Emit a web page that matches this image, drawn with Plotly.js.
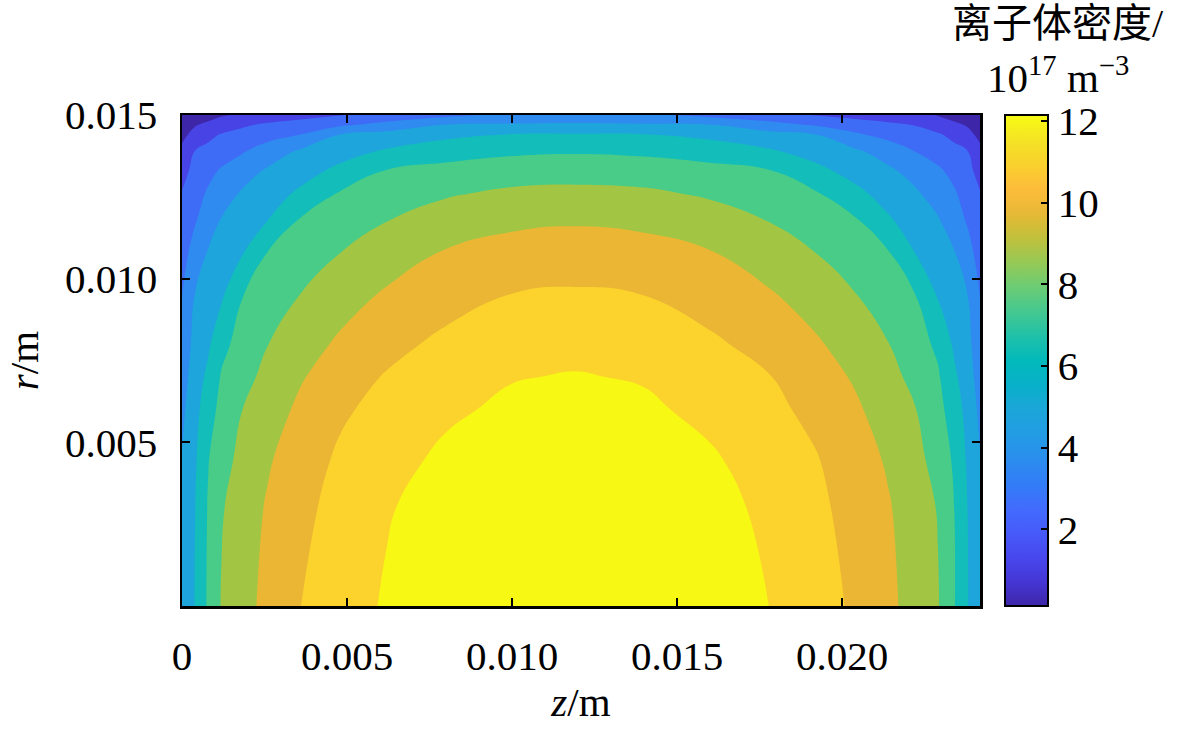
<!DOCTYPE html>
<html>
<head>
<meta charset="utf-8">
<script src="https://cdn.plot.ly/plotly-3.0.1.min.js"></script>
<style>html,body{margin:0;padding:0;background:#fff;}#chart{width:1181px;height:730px;}</style>
</head>
<body>
<div id="chart"></div>
<script>
// axial positions z (m) of the grid columns
const zPos = [0, 0.0004, 0.0008, 0.0012, 0.0018, 0.0026, 0.0036, 0.0048, 0.0062, 0.0080, 0.0100, 0.0119,
              0.0140, 0.0160, 0.0178, 0.0192, 0.0204, 0.0214, 0.0222, 0.0229, 0.0234, 0.0238, 0.02418];
// radial positions r (m) of the grid rows
const rPos = [0, 0.003, 0.0045, 0.006, 0.007, 0.008, 0.0095, 0.0108, 0.0118, 0.0126, 0.0133, 0.0139, 0.0144, 0.0147, 0.015];

// ion density (1e17 m^-3), one array per radial row
const n_r0000 = [4.70, 5.64, 6.88, 7.86, 8.46, 9.18, 9.96, 10.55, 11.18, 11.70, 12.04, 12.15, 12.01, 11.62, 11.05, 10.41, 9.80, 9.11, 8.48, 7.87, 6.74, 5.64, 4.70];
const n_r0030 = [4.60, 5.58, 6.79, 7.68, 8.30, 8.98, 9.69, 10.33, 10.97, 11.51, 11.85, 11.96, 11.82, 11.43, 10.82, 10.21, 9.57, 8.96, 8.33, 7.72, 6.68, 5.59, 4.60];
const n_r0045 = [4.53, 5.45, 6.64, 7.34, 8.07, 8.75, 9.45, 10.13, 10.67, 11.27, 11.61, 11.72, 11.58, 11.19, 10.56, 10.03, 9.36, 8.74, 8.12, 7.38, 6.51, 5.44, 4.53];
const n_r0060 = [4.25, 5.24, 6.25, 7.00, 7.75, 8.38, 9.08, 9.80, 10.31, 10.87, 11.27, 11.38, 11.24, 10.78, 10.23, 9.68, 9.03, 8.38, 7.83, 7.03, 6.15, 5.22, 4.25];
const n_r0070 = [4.00, 5.06, 5.84, 6.79, 7.40, 8.08, 8.78, 9.44, 10.05, 10.55, 11.00, 11.12, 10.97, 10.50, 10.00, 9.36, 8.75, 8.11, 7.50, 6.82, 5.78, 5.03, 4.00];
const n_r0080 = [3.76, 4.86, 5.44, 6.37, 7.09, 7.76, 8.40, 9.05, 9.61, 10.24, 10.63, 10.75, 10.60, 10.17, 9.54, 9.01, 8.39, 7.80, 7.17, 6.48, 5.41, 4.83, 3.76];
const n_r0095 = [3.39, 4.54, 4.98, 5.43, 6.63, 7.17, 7.80, 8.41, 9.01, 9.49, 9.99, 10.10, 9.96, 9.44, 8.98, 8.39, 7.81, 7.22, 6.73, 5.50, 4.95, 4.50, 3.39];
const n_r0108 = [2.96, 3.86, 4.58, 4.93, 5.46, 6.71, 7.20, 7.77, 8.31, 8.95, 9.28, 9.38, 9.26, 8.92, 8.29, 7.77, 7.22, 6.75, 5.59, 4.98, 4.54, 3.80, 2.96];
const n_r0118 = [2.63, 3.31, 3.96, 4.55, 4.99, 5.57, 6.77, 7.22, 7.74, 8.28, 8.63, 8.74, 8.61, 8.25, 7.73, 7.22, 6.78, 5.71, 5.08, 4.58, 3.90, 3.28, 2.63];
const n_r0126 = [2.37, 2.99, 3.55, 4.00, 4.59, 5.09, 5.79, 6.79, 7.17, 7.66, 7.98, 8.06, 7.96, 7.63, 7.16, 6.79, 5.87, 5.15, 4.66, 4.05, 3.52, 2.96, 2.37];
const n_r0133 = [1.92, 2.66, 3.11, 3.52, 4.03, 4.63, 5.16, 5.86, 6.73, 7.05, 7.26, 7.33, 7.25, 7.04, 6.72, 5.88, 5.19, 4.68, 4.14, 3.58, 3.09, 2.64, 1.92];
const n_r0139 = [1.45, 2.33, 2.60, 2.87, 3.27, 3.91, 4.63, 5.15, 5.71, 6.17, 6.48, 6.57, 6.46, 6.15, 5.70, 5.16, 4.65, 4.01, 3.39, 2.92, 2.59, 2.32, 1.45];
const n_r0144 = [0.95, 1.56, 2.06, 2.39, 2.65, 2.99, 3.41, 4.50, 4.87, 5.35, 5.64, 5.68, 5.64, 5.33, 4.86, 4.50, 3.56, 3.06, 2.73, 2.43, 2.04, 1.54, 0.95];
const n_r0147 = [0.60, 1.14, 1.45, 1.72, 2.13, 2.49, 2.81, 3.21, 3.76, 4.51, 4.59, 4.62, 4.59, 4.50, 3.80, 3.27, 2.87, 2.55, 2.26, 1.78, 1.43, 1.11, 0.60];
const n_r0150 = [0.12, 0.45, 0.79, 1.12, 1.36, 1.60, 1.90, 2.27, 2.65, 3.13, 3.68, 3.90, 3.63, 3.09, 2.63, 2.26, 1.92, 1.63, 1.40, 1.19, 0.77, 0.44, 0.12];

// colour range and contour levels (11 filled bands)
const densMin = 0.12, densMax = 12.15;
const levelStart = 1.2136, levelStep = 1.09364, levelEnd = 11.06;

// tick labels
const xTickVals = [0, 0.005, 0.010, 0.015, 0.020];
const xTickText = ['0', '0.005', '0.010', '0.015', '0.020'];
const yTickVals = [0.005, 0.010, 0.015];
const yTickText = ['0.005', '0.010', '0.015'];
const cbTickVals = [2, 4, 6, 8, 10, 12];

// band colours (lowest band to highest) and continuous colorbar palette
const bandColors = ['#3e26a8', '#4743e4', '#3f6cf6', '#2f8bef', '#1ea6dc', '#13bdb9',
                    '#49cc87', '#a2c643', '#ebb634', '#fbd32c', '#f7f915'];
const parula = [
  [0.00, '#3e26a8'], [0.05, '#4536d5'], [0.10, '#4748ee'], [0.15, '#475bf9'],
  [0.20, '#416cfd'], [0.25, '#327df7'], [0.30, '#2b8eee'], [0.35, '#229ce4'],
  [0.40, '#1ca6d9'], [0.45, '#08b0c9'], [0.50, '#02b9bb'], [0.55, '#20c1a8'],
  [0.60, '#45c890'], [0.65, '#6bcc74'], [0.70, '#96c955'], [0.75, '#c1c03b'],
  [0.80, '#e7b935'], [0.85, '#fdbc3b'], [0.90, '#f9d12d'], [0.95, '#f4e424'],
  [1.00, '#f9fb14']
];

const density = [n_r0000, n_r0030, n_r0045, n_r0060, n_r0070, n_r0080, n_r0095, n_r0108, n_r0118,
                 n_r0126, n_r0133, n_r0139, n_r0144, n_r0147, n_r0150];
const bandScale = bandColors.map((c, i) => [i / (bandColors.length - 1), c]);

const FONT = 'Liberation Serif, Times New Roman, Noto Sans CJK SC, serif';

const traces = [
  {
    type: 'contour',
    x: zPos, y: rPos, z: density,
    autocontour: false,
    contours: {start: levelStart, end: levelEnd, size: levelStep, coloring: 'fill', showlines: false},
    colorscale: bandScale,
    showscale: false,
    line: {width: 0, smoothing: 1.3},
    hoverinfo: 'skip'
  },
  {
    type: 'scatter', mode: 'markers',
    x: [0.012, 0.012], y: [0.007, 0.007],
    hoverinfo: 'skip', showlegend: false,
    marker: {
      size: 1, opacity: 0,
      color: [densMin, densMax], cmin: densMin, cmax: densMax,
      colorscale: parula, showscale: true,
      colorbar: {
        x: 1.0313, xanchor: 'left', xref: 'paper', xpad: 0,
        y: 0.5, yanchor: 'middle', len: 1, lenmode: 'fraction', ypad: 0,
        thickness: 43, thicknessmode: 'pixels',
        outlinewidth: 2, outlinecolor: 'black',
        ticks: 'inside', ticklen: 8, tickwidth: 2, tickcolor: 'black',
        tickvals: cbTickVals, tickfont: {family: FONT, size: 41, color: 'black'},
        ticklabelstandoff: 6
      }
    }
  }
];

const layout = {
  width: 1181, height: 730,
  margin: {l: 182, r: 201, t: 115, b: 124, pad: 0},
  paper_bgcolor: 'white', plot_bgcolor: 'white',
  font: {family: FONT, size: 41, color: 'black'},
  showlegend: false,
  xaxis: {
    range: [0, 0.02418], tickmode: 'array', tickvals: xTickVals, ticktext: xTickText,
    ticks: 'inside', ticklen: 8, tickwidth: 2, tickcolor: 'black',
    showline: true, linewidth: 2.5, linecolor: 'black', mirror: 'ticks',
    showgrid: false, zeroline: false, ticklabelstandoff: 12,
    title: {text: '<span style="font-style:italic">z</span>/m', standoff: 8, font: {family: FONT, size: 41}}
  },
  yaxis: {
    range: [0, 0.015], tickmode: 'array', tickvals: yTickVals, ticktext: yTickText,
    ticks: 'inside', ticklen: 8, tickwidth: 2, tickcolor: 'black',
    showline: true, linewidth: 2.5, linecolor: 'black', mirror: 'ticks',
    showgrid: false, zeroline: false, ticklabelstandoff: 14,
    title: {text: '<span style="font-style:italic">r</span>/m', standoff: 14, font: {family: FONT, size: 41}}
  },
  annotations: [
    {text: '离子体密度/', xref: 'paper', yref: 'paper', x: 1.0977, y: 1.186,
     xanchor: 'center', yanchor: 'middle', showarrow: false, font: {family: FONT, size: 40}},
    {text: '10<sup>17</sup> m<sup>−3</sup>', xref: 'paper', yref: 'paper', x: 1.0977, y: 1.082,
     xanchor: 'center', yanchor: 'middle', showarrow: false, font: {family: FONT, size: 41}}
  ]
};

Plotly.newPlot('chart', traces, layout, {displayModeBar: false, staticPlot: true});
</script>
</body>
</html>
